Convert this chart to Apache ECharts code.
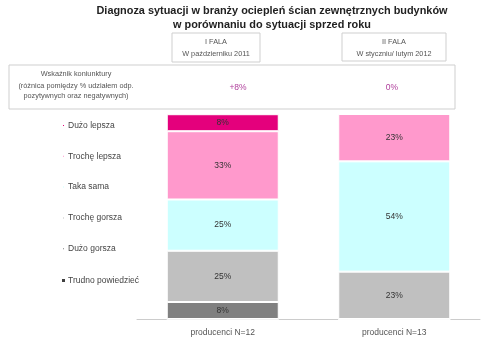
<!DOCTYPE html>
<html><head><meta charset="utf-8">
<script src="https://cdn.jsdelivr.net/npm/echarts@6/dist/echarts.min.js"></script>
<style>html,body{margin:0;padding:0;background:#fff}#c{width:500px;height:341px}</style>
</head><body><div id="c"></div>
<script>
const categories = ['producenci N=12', 'producenci N=13'];
const seriesNames = ['Dużo lepsza', 'Trochę lepsza', 'Taka sama', 'Trochę gorsza', 'Dużo gorsza', 'Trudno powiedzieć'];
const duzoLepsza = [8.3, 0];
const trocheLepsza = [33.3, 23.1];
const takaSama = [25, 53.8];
const trocheGorsza = [25, 23.1];
const duzoGorsza = [8.3, 0];
const trudnoPowiedziec = [0, 0];
const waveTitles = ['I FALA', 'II FALA'];
const waveDates = ['W październiku 2011', 'W styczniu/ lutym 2012'];
const indexValues = ['+8%', '0%'];
const colors = ['#e4007c', '#ff99cc', '#ccffff', '#c0c0c0', '#808080', '#404040'];

const stackOrder = [trudnoPowiedziec, duzoGorsza, trocheGorsza, takaSama, trocheLepsza, duzoLepsza];
const stackNames = seriesNames.slice().reverse();
const stackColors = colors.slice().reverse();

const chart = echarts.init(document.getElementById('c'));
const series = stackOrder.map((d, i) => ({
  name: stackNames[i],
  type: 'bar',
  stack: 'all',
  barWidth: 112,
  data: d,
  itemStyle: { color: stackColors[i], borderColor: '#fff', borderWidth: 1 },
  label: {
    show: true, position: 'inside', color: '#333', fontSize: 8.5, fontFamily: 'Liberation Sans',
    formatter: p => p.value > 0 ? Math.round(p.value) + '%' : ''
  }
}));

const txt = (x, y, text, opts) => ({
  type: 'text', x: x, y: y,
  style: Object.assign({ text: text, fill: '#555', font: '7.3px "Liberation Sans"', textAlign: 'center', textVerticalAlign: 'middle' }, opts || {})
});

chart.setOption({
  animation: false,
  title: {
    text: 'Diagnoza sytuacji w branży ociepleń ścian zewnętrznych budynków\nw porównaniu do sytuacji sprzed roku',
    left: 267, top: -1, textAlign: 'center',
    textStyle: { fontFamily: 'Liberation Sans', fontWeight: 'bold', fontSize: 10.9, color: '#222', lineHeight: 14 }
  },
  legend: [{
    data: seriesNames.slice(0, 5),
    orient: 'vertical', left: 56, top: 116, itemGap: 21.8,
    itemWidth: 3, itemHeight: 3, icon: 'rect', selectedMode: false,
    textStyle: { fontFamily: 'Liberation Sans', fontSize: 8.5, color: '#444', padding: [0, 0, 0, -2] }
  }, {
    data: [seriesNames[5]],
    orient: 'vertical', left: 55, top: 271,
    itemWidth: 5, itemHeight: 5, icon: 'rect', selectedMode: false,
    textStyle: { fontFamily: 'Liberation Sans', fontSize: 8.5, color: '#444', padding: [0, 0, 0, -3] }
  }],
  grid: { left: 137, right: 20, top: 114, bottom: 22 },
  xAxis: {
    type: 'category', data: categories,
    axisLine: { lineStyle: { color: '#ccc' } }, axisTick: { show: false },
    axisLabel: { color: '#555', fontSize: 8.5, fontFamily: 'Liberation Sans', margin: 9 }
  },
  yAxis: { type: 'value', min: 0, max: 100, show: false, splitLine: { show: false } },
  series: series,
  graphic: [
    { type: 'rect', shape: { x: 172, y: 33, width: 88, height: 29 }, style: { fill: '#fff', stroke: '#cfcfcf', lineWidth: 1 } },
    { type: 'rect', shape: { x: 342, y: 33, width: 104, height: 28 }, style: { fill: '#fff', stroke: '#cfcfcf', lineWidth: 1 } },
    { type: 'rect', shape: { x: 9, y: 65, width: 446, height: 44 }, style: { fill: '#fff', stroke: '#cfcfcf', lineWidth: 1 } },
    txt(216, 42, waveTitles[0]),
    txt(216, 54, waveDates[0]),
    txt(394, 42, waveTitles[1]),
    txt(394, 54, waveDates[1]),
    txt(76, 74, 'Wskaźnik koniunktury'),
    txt(76, 86, '(różnica pomiędzy % udziałem odp.'),
    txt(76, 96, 'pozytywnych oraz negatywnych)'),
    txt(238, 88, indexValues[0], { fill: '#b0409c', font: '8.5px "Liberation Sans"' }),
    txt(392, 88, indexValues[1], { fill: '#b0409c', font: '8.5px "Liberation Sans"' })
  ]
});
</script></body></html>
